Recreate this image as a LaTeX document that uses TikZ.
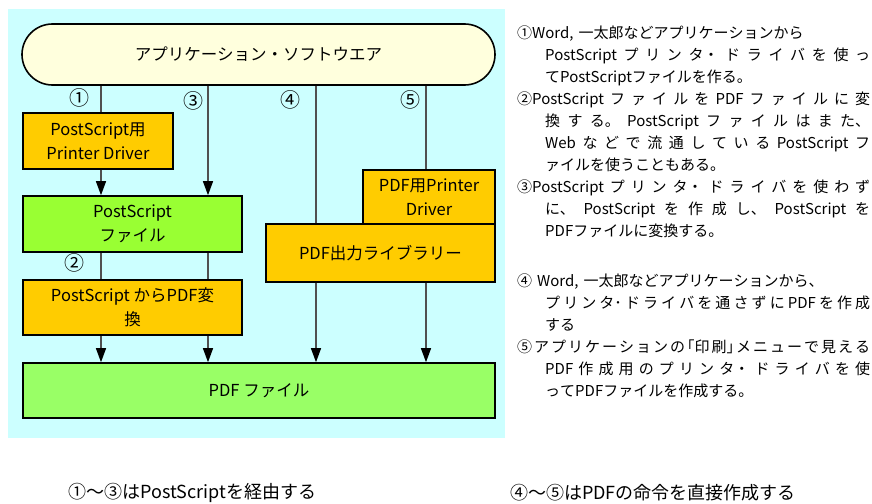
\documentclass[tikz,border=0pt]{standalone}
\usepackage{fontspec}
\setmainfont{Noto Sans CJK JP}
\usetikzlibrary{arrows.meta,shapes.misc}
\XeTeXlinebreaklocale "ja"
\XeTeXlinebreakskip=0pt plus 1fil
\definecolor{bgcyan}{HTML}{CCFFFF}
\definecolor{appcream}{HTML}{FFFFDD}
\definecolor{orangebox}{HTML}{FFCC00}
\definecolor{greenps}{HTML}{99FF33}
\definecolor{greenpdf}{HTML}{99FF66}
\definecolor{connline}{HTML}{505050}
\newcommand\brk{\unskip\nobreak\hfill\break}
\newcommand\notesetup{\parindent=0pt\parskip=0pt\leftskip=0pt\rightskip=0pt\parfillskip=0pt plus 1fill\relax}
\begin{document}
\begin{tikzpicture}[x=1pt,y=-1pt,
  boxbase/.style={draw=black,line width=1.6pt,inner sep=0pt,align=center,
    font=\fontsize{16.5}{24}\selectfont},
  conn/.style={draw=connline,line width=1.3pt},
  connarrow/.style={conn,-{Triangle[width=10pt,length=14pt,color=black]}},
  numlbl/.style={inner sep=0pt,font=\fontsize{20}{20}\selectfont},
  notes/.style={anchor=north west,inner sep=0pt,text width=353pt,
    font=\fontsize{15}{22}\selectfont},
  caption/.style={anchor=west,inner sep=0pt,font=\fontsize{18}{18}\selectfont}]
\useasboundingbox (0,0) rectangle (872,503);
\fill[bgcyan] (8,9) rectangle (505,438);

% application
\node[boxbase,shape=rounded rectangle,fill=appcream,minimum width=473pt,minimum height=61pt]
  (app) at (258.5,54.5) {アプリケーション・ソフトウエア};

% boxes
\node[boxbase,fill=orangebox,minimum width=150pt,minimum height=56pt]
  (psdrv) at (98,141) {PostScript用\\Printer Driver};
\node[boxbase,fill=greenps,minimum width=219pt,minimum height=56pt]
  (psfile) at (132.5,224) {PostScript\\ファイル};
\node[boxbase,fill=orangebox,minimum width=219pt,minimum height=55pt]
  (conv) at (132.5,307.5) {PostScript からPDF変\\換};
\node[boxbase,fill=greenpdf,minimum width=472pt,minimum height=55pt]
  (pdf) at (259,390.5) {PDF ファイル};
\node[boxbase,fill=orangebox,minimum width=132pt,minimum height=54pt]
  (pdfdrv) at (429,197) {PDF用Printer\\Driver};
\node[boxbase,fill=orangebox,minimum width=229pt,minimum height=58pt]
  (pdflib) at (380.5,253) {PDF出力ライブラリー};

% connector columns
\coordinate (xa) at (101,0);
\coordinate (xb) at (208,0);
\coordinate (xc) at (316,0);
\coordinate (xd) at (426,0);

\draw[conn] (app.south -| xa) -- (psdrv.north -| xa);
\draw[connarrow] (psdrv.south -| xa) -- (psfile.north -| xa);
\draw[connarrow] (app.south -| xb) -- (psfile.north -| xb);
\draw[conn] (psfile.south -| xa) -- (conv.north -| xa);
\draw[conn] (psfile.south -| xb) -- (conv.north -| xb);
\draw[connarrow] (conv.south -| xa) -- (pdf.north -| xa);
\draw[connarrow] (conv.south -| xb) -- (pdf.north -| xb);
\draw[conn] (app.south -| xc) -- (pdflib.north -| xc);
\draw[conn] (app.south -| xd) -- (pdfdrv.north -| xd);
\draw[connarrow] (pdflib.south -| xc) -- (pdf.north -| xc);
\draw[connarrow] (pdflib.south -| xd) -- (pdf.north -| xd);

% route labels
\node[numlbl] (n1) at (79,98) {①};
\node[numlbl] (n3) at (193,101) {③};
\node[numlbl] (n4) at (290,100) {④};
\node[numlbl] (n5) at (410,100) {⑤};
\node[numlbl] (n2) at (74,263) {②};

% notes
\node[notes] (notesA) at (517,26) {\notesetup
\hangindent=28pt\hangafter=1 ①Word, 一太郎などアプリケーションから\brk
PostScriptプリンタ・ドライバを使っ\linebreak
てPostScriptファイルを作る。\par
\hangindent=28pt\hangafter=1 ②PostScriptファイルをPDFファイルに変\linebreak
換する。PostScriptファイルはまた、\linebreak
Webなどで流通しているPostScriptフ\linebreak
ァイルを使うこともある。\par
\hangindent=28pt\hangafter=1 ③PostScriptプリンタ・ドライバを使わず\linebreak
に、PostScriptを作成し、PostScriptを\linebreak
PDFファイルに変換する。\par};

\node[notes] (notesB) at (517,274) {\notesetup
\hangindent=28pt\hangafter=1 ④ Word, 一太郎などアプリケーションから、\brk
プリンタ･ドライバを通さずにPDFを作成\linebreak
する\par
\hangindent=28pt\hangafter=1 ⑤アプリケーションの｢印刷｣メニューで見える\linebreak
PDF作成用のプリンタ・ドライバを使\linebreak
ってPDFファイルを作成する。\par};

% captions
\node[caption] (capA) at (68,493) {①～③はPostScriptを経由する};
\node[caption] (capB) at (510,493) {④～⑤はPDFの命令を直接作成する};
\end{tikzpicture}
\end{document}
